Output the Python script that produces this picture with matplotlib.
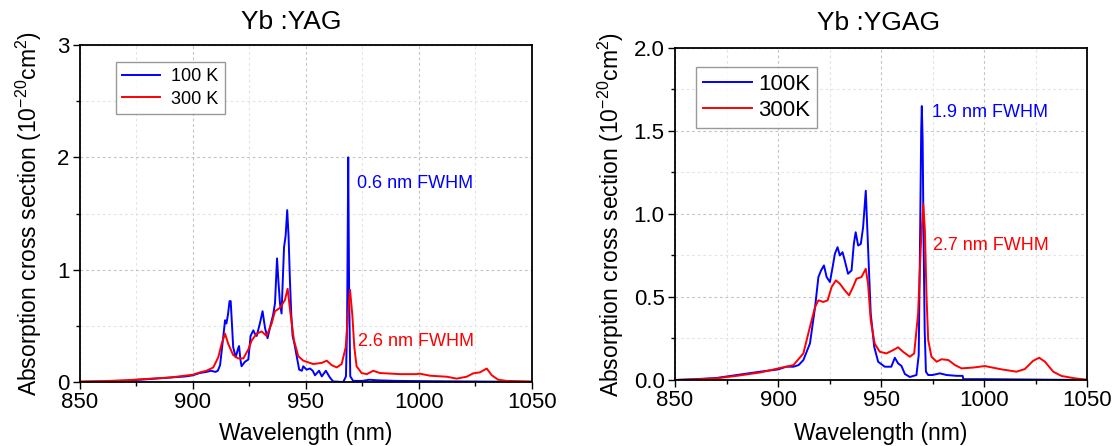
import matplotlib
matplotlib.use("Agg")
import matplotlib.pyplot as plt
from matplotlib.ticker import MultipleLocator, FormatStrFormatter

plt.rcParams['font.family'] = ['Liberation Sans', 'DejaVu Sans']
plt.rcParams['mathtext.fontset'] = 'custom'
plt.rcParams['mathtext.rm'] = 'Liberation Sans'
plt.rcParams['mathtext.it'] = 'Liberation Sans:italic'
plt.rcParams['mathtext.bf'] = 'Liberation Sans:bold'

# ---------------- data ----------------
yag_wl_100 = [850, 860, 870, 880, 890, 897, 900, 903, 906, 908, 910, 911, 912, 913.4, 914.2, 914.8,
              915.5, 916.2, 916.7, 917.3, 917.8, 918.9, 920.0, 920.4, 921.0, 921.5, 923, 924.5, 925.5,
              926.7, 927.4, 928.2, 929.6, 930.8, 931.9, 933.0, 934.5, 935.5, 936.3, 937.2, 937.8,
              938.5, 939.2, 940.3, 941.0, 941.7, 942.3, 942.9, 943.5, 944.1, 945.0, 945.9, 947.0,
              948.2, 948.8, 950.3, 951.8, 953.0, 954.0, 955.8, 957.0, 958.8, 960.6, 962.0, 966.5,
              967.7, 968.2, 968.7, 969.1, 969.6, 970.9, 975, 978, 982, 990, 1000, 1020, 1035, 1050]
yag_100 = [0.0, 0.005, 0.012, 0.025, 0.04, 0.05, 0.06, 0.08, 0.09, 0.1, 0.09, 0.1, 0.15, 0.4, 0.55, 0.52,
           0.6, 0.72, 0.72, 0.5, 0.31, 0.22, 0.3, 0.32, 0.2, 0.14, 0.18, 0.2, 0.41,
           0.46, 0.43, 0.41, 0.52, 0.63, 0.48, 0.39, 0.52, 0.6, 0.7, 1.1, 0.9,
           0.7, 0.61, 1.2, 1.3, 1.53, 1.3, 0.91, 0.6, 0.41, 0.33, 0.23, 0.11,
           0.1, 0.14, 0.11, 0.12, 0.1, 0.06, 0.1, 0.05, 0.1, 0.04, 0.005, 0.0,
           0.05, 0.5, 2.0, 0.8, 0.05, 0.01, 0.01, 0.02, 0.015, 0.01, 0.008, 0.005, 0.003, 0.0]

yag_wl_300 = [850, 860, 870, 880, 890, 900, 903, 906, 909, 911.2, 912.7, 914.2, 915.6, 917.8, 920,
              922.3, 924.5, 926, 928.2, 930.4, 932.6, 934.8, 936.3, 938.5, 940.7, 941.9, 943.2,
              944.7, 946.6, 948.8, 953.2, 957, 959.2, 961.4, 963.6, 965.8, 967.6, 968.5, 969.5,
              970.5, 971.4, 972.4, 974.6, 976.9, 979.8, 982.7, 991.6, 999, 1000.2, 1004.9, 1012.3,
              1016.7, 1021.1, 1024, 1027, 1030, 1032.2, 1035.1, 1038.8, 1050]
yag_300 = [0.005, 0.008, 0.015, 0.028, 0.04, 0.065, 0.085, 0.1, 0.13, 0.22, 0.34, 0.43, 0.34, 0.24, 0.21,
           0.21, 0.29, 0.37, 0.43, 0.45, 0.41, 0.52, 0.63, 0.66, 0.73, 0.83, 0.6,
           0.37, 0.23, 0.19, 0.16, 0.17, 0.19, 0.15, 0.13, 0.16, 0.31, 0.58, 0.82,
           0.6, 0.31, 0.14, 0.08, 0.07, 0.1, 0.08, 0.07, 0.07, 0.075, 0.056, 0.047,
           0.03, 0.047, 0.077, 0.086, 0.12, 0.06, 0.02, 0.01, 0.005]

ygag_wl_100 = [850, 860, 870, 880, 891.3, 900.2, 904, 907.5, 910, 912.3, 915.5, 918, 919.6, 920.9,
               922.3, 923.6, 925.2, 926.5, 927.6, 928.9, 930, 931.3, 932.4, 934, 935.7, 936.8, 937.7,
               938.9, 940.2, 941.3, 942.6, 943.7, 945, 946.7, 948.6, 951.8, 955, 956.7, 958.3, 959.9,
               961.6, 964, 967.2, 968.3, 969.0, 969.5, 969.8, 970.2, 970.7, 971.2, 971.8, 972.9, 975,
               978.6, 981.8, 986.7, 989.6, 990.0, 1000, 1050]
ygag_100 = [0.0, 0.005, 0.012, 0.03, 0.05, 0.064, 0.08, 0.08, 0.09, 0.12, 0.22, 0.44, 0.62, 0.66,
            0.69, 0.62, 0.59, 0.68, 0.76, 0.80, 0.75, 0.77, 0.72, 0.64, 0.66, 0.82, 0.89,
            0.81, 0.82, 0.92, 1.14, 0.80, 0.40, 0.2, 0.11, 0.08, 0.08, 0.134, 0.1, 0.085,
            0.036, 0.018, 0.03, 0.15, 0.9, 1.5, 1.65, 1.45, 0.8, 0.3, 0.05, 0.03, 0.03,
            0.04, 0.03, 0.025, 0.025, 0.005, 0.005, 0.0]

ygag_wl_300 = [850, 860, 870, 880, 891.3, 900.2, 907.5, 912.3, 915.5, 918, 919.6, 922, 924.1, 926,
               928.1, 930, 932.4, 934.5, 936.4, 938.1, 940.5, 942.6, 943.7, 945, 946.9, 949.4, 952.6,
               955.9, 958.3, 960.7, 964, 966.1, 968, 969.3, 970.5, 971.3, 972.1, 972.9, 974.5, 977,
               979.4, 982.7, 985.9, 989.1, 994.8, 1000.4, 1008.5, 1015.8, 1019.8, 1023.9, 1026.8,
               1029.6, 1033.6, 1037.7, 1044.1, 1050]
ygag_300 = [0.0, 0.004, 0.01, 0.025, 0.045, 0.07, 0.09, 0.16, 0.32, 0.44, 0.48, 0.47, 0.48, 0.56,
            0.60, 0.58, 0.54, 0.51, 0.56, 0.61, 0.62, 0.67, 0.58, 0.36, 0.22, 0.17, 0.16,
            0.18, 0.197, 0.17, 0.14, 0.16, 0.4, 0.8, 1.06, 0.9, 0.5, 0.24, 0.14, 0.11,
            0.125, 0.12, 0.09, 0.07, 0.075, 0.084, 0.064, 0.05, 0.066, 0.116, 0.134,
            0.11, 0.05, 0.024, 0.01, 0.002]

titles = ["Yb :YAG", "Yb :YGAG"]
legend_yag = ["100 K", "300 K"]
legend_ygag = ["100K", "300K"]
fwhm_yag = ["0.6 nm FWHM", "2.6 nm FWHM"]
fwhm_ygag = ["1.9 nm FWHM", "2.7 nm FWHM"]
xlabel = "Wavelength (nm)"
ylabel = r"Absorption cross section (10$^{\mathregular{-20}}$cm$^{\mathregular{2}}$)"

BLUE = '#0000ff'
RED = '#ff0000'

fig = plt.figure(figsize=(11.15, 4.46), dpi=100)
ax1 = fig.add_axes([0.0717, 0.1435, 0.4054, 0.7556])
ax2 = fig.add_axes([0.6054, 0.148, 0.3695, 0.7444])


def style(ax, ymax, ymajor, yminor, fmt):
    ax.set_xlim(850, 1050)
    ax.set_ylim(0, ymax)
    ax.xaxis.set_major_locator(MultipleLocator(50))
    ax.xaxis.set_minor_locator(MultipleLocator(25))
    ax.yaxis.set_major_locator(MultipleLocator(ymajor))
    ax.yaxis.set_minor_locator(MultipleLocator(yminor))
    ax.yaxis.set_major_formatter(FormatStrFormatter(fmt))
    ax.grid(which='major', color='#c4c4c4', linestyle=(0, (2.5, 2.5)), linewidth=0.8)
    ax.grid(which='minor', color='#e4e4e4', linestyle=(0, (2.5, 2.5)), linewidth=0.8)
    ax.set_axisbelow(True)
    ax.tick_params(which='major', direction='out', length=5, width=1.0, labelsize=16, pad=2.5,
                   top=False, right=False)
    ax.tick_params(which='minor', direction='out', length=3, width=1.0, top=False, right=False)
    for s in ax.spines.values():
        s.set_linewidth(1.3)
        s.set_color('black')
    ax.set_xlabel(xlabel, fontsize=16.5)
    ax.set_ylabel(ylabel, fontsize=16.5)


style(ax1, 3, 1, 0.5, '%d')
style(ax2, 2.0, 0.5, 0.25, '%.1f')

ax1.plot(yag_wl_100, yag_100, color=BLUE, lw=1.4, label=legend_yag[0])
ax1.plot(yag_wl_300, yag_300, color=RED, lw=1.4, label=legend_yag[1])
ax2.plot(ygag_wl_100, ygag_100, color=BLUE, lw=1.4, label=legend_ygag[0])
ax2.plot(ygag_wl_300, ygag_300, color=RED, lw=1.4, label=legend_ygag[1])

ax1.xaxis.set_label_coords(0.5, -0.12)
ax2.xaxis.set_label_coords(0.5, -0.128)
ax1.yaxis.set_label_coords(-0.08, 0.5)
ax2.yaxis.set_label_coords(-0.118, 0.5)

ax1.text(0.467, 1.068, titles[0], transform=ax1.transAxes, ha='center', va='center', fontsize=19)
ax2.text(0.493, 1.075, titles[1], transform=ax2.transAxes, ha='center', va='center', fontsize=19)

leg1 = ax1.legend(loc='upper left', bbox_to_anchor=(0.08, 0.95), borderaxespad=0, fontsize=13,
                  frameon=True, fancybox=False, edgecolor='#808080', handlelength=2.1,
                  borderpad=0.35, labelspacing=0.3, handletextpad=0.6)
leg1.get_frame().set_linewidth(1.0)
leg2 = ax2.legend(loc='upper left', bbox_to_anchor=(0.051, 0.943), borderaxespad=0, fontsize=16,
                  frameon=True, fancybox=False, edgecolor='#808080', handlelength=2.2,
                  borderpad=0.3, labelspacing=0.25, handletextpad=0.3)
leg2.get_frame().set_linewidth(1.0)

ax1.text(972.6, 1.77, fwhm_yag[0], color=BLUE, fontsize=13, ha='left', va='center')
ax1.text(973.0, 0.36, fwhm_yag[1], color=RED, fontsize=13, ha='left', va='center')

ax2.text(974.8, 1.61, fwhm_ygag[0], color=BLUE, fontsize=13, ha='left', va='center')
ax2.text(975.2, 0.81, fwhm_ygag[1], color=RED, fontsize=13, ha='left', va='center')

fig.savefig("out.png", dpi=100)
